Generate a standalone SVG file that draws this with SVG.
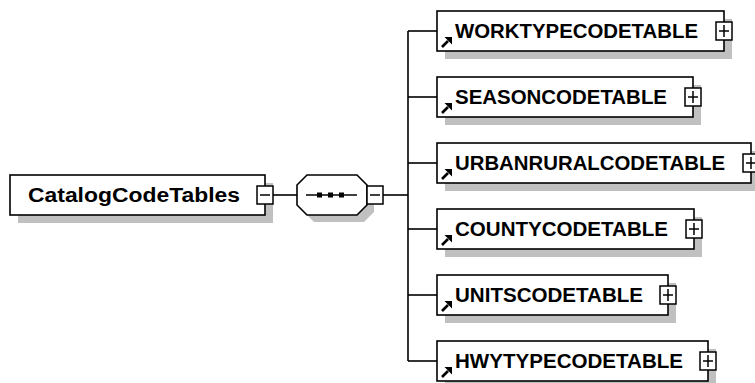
<svg xmlns="http://www.w3.org/2000/svg" width="755" height="383" viewBox="0 0 755 383">
<defs>
<style>
.sh{fill:#c0c0c0;stroke:none}
.bx{fill:#fff;stroke:#000;stroke-width:1.6}
.pm{fill:#fff;stroke:#000;stroke-width:1.5}
.ln{fill:none;stroke:#000;stroke-width:1.6}
.sg{fill:none;stroke:#000;stroke-width:1.5}
.t{font-family:"Liberation Sans",Arial,sans-serif;font-weight:bold;font-size:20px;fill:#000}
</style>
<g id="arrow-ref">
<path d="M0,0 L6,-6" stroke="#000" stroke-width="2.6" fill="none"/>
<path d="M2.5,-10 L10,-10 L10,-2.5 Z" fill="#000"/>
</g>
</defs>
<rect width="755" height="383" fill="#fff"/>

<g id="connectors">
<line class="ln" x1="273" y1="195" x2="297" y2="195"/>
<line class="ln" x1="383" y1="195" x2="408" y2="195"/>
<line class="ln" x1="408" y1="31" x2="408" y2="361"/>
<line class="ln" x1="408" y1="31" x2="437" y2="31"/>
<line class="ln" x1="408" y1="97" x2="437" y2="97"/>
<line class="ln" x1="408" y1="163" x2="437" y2="163"/>
<line class="ln" x1="408" y1="229" x2="437" y2="229"/>
<line class="ln" x1="408" y1="295" x2="437" y2="295"/>
<line class="ln" x1="408" y1="361" x2="437" y2="361"/>
</g>

<g id="CatalogCodeTables">
<rect class="sh" x="18" y="183" width="255" height="40"/>
<rect class="bx" x="10" y="175" width="255" height="40"/>
<text class="t" x="28" y="202" textLength="212" lengthAdjust="spacingAndGlyphs">CatalogCodeTables</text>
<rect class="pm" x="257" y="186" width="16" height="18"/>
<line class="sg" x1="260" y1="195" x2="270" y2="195"/>
</g>

<g id="sequence">
<polygon class="sh" points="314,182 364,182 374,192 374,212 364,222 314,222 304,212 304,192"/>
<polygon class="bx" points="307,175 357,175 367,185 367,205 357,215 307,215 297,205 297,185"/>
<line class="ln" x1="306" y1="195" x2="357" y2="195"/>
<rect x="317" y="192.5" width="5" height="5" fill="#000"/>
<rect x="328" y="192.5" width="5" height="5" fill="#000"/>
<rect x="339" y="192.5" width="5" height="5" fill="#000"/>
<rect class="pm" x="367" y="186" width="16" height="18"/>
<line class="sg" x1="370" y1="195" x2="380" y2="195"/>
</g>

<g id="WORKTYPECODETABLE">
<rect class="sh" x="445" y="19" width="287" height="40"/>
<rect class="bx" x="437" y="11" width="287" height="40"/>
<use href="#arrow-ref" x="442" y="47"/>
<text class="t" x="455" y="38" textLength="243" lengthAdjust="spacingAndGlyphs">WORKTYPECODETABLE</text>
<rect class="pm" x="716" y="22" width="16" height="18"/>
<line class="sg" x1="719" y1="31" x2="729" y2="31"/>
<line class="sg" x1="724" y1="25" x2="724" y2="37"/>
</g>

<g id="SEASONCODETABLE">
<rect class="sh" x="445" y="85" width="256" height="40"/>
<rect class="bx" x="437" y="77" width="256" height="40"/>
<use href="#arrow-ref" x="442" y="113"/>
<text class="t" x="455" y="104" textLength="212" lengthAdjust="spacingAndGlyphs">SEASONCODETABLE</text>
<rect class="pm" x="685" y="88" width="16" height="18"/>
<line class="sg" x1="688" y1="97" x2="698" y2="97"/>
<line class="sg" x1="693" y1="91" x2="693" y2="103"/>
</g>

<g id="URBANRURALCODETABLE">
<rect class="sh" x="445" y="151" width="314" height="40"/>
<rect class="bx" x="437" y="143" width="314" height="40"/>
<use href="#arrow-ref" x="442" y="179"/>
<text class="t" x="455" y="170" textLength="270" lengthAdjust="spacingAndGlyphs">URBANRURALCODETABLE</text>
<rect class="pm" x="743" y="154" width="16" height="18"/>
<line class="sg" x1="746" y1="163" x2="756" y2="163"/>
<line class="sg" x1="751" y1="157" x2="751" y2="169"/>
</g>

<g id="COUNTYCODETABLE">
<rect class="sh" x="445" y="217" width="257" height="40"/>
<rect class="bx" x="437" y="209" width="257" height="40"/>
<use href="#arrow-ref" x="442" y="245"/>
<text class="t" x="455" y="236" textLength="213" lengthAdjust="spacingAndGlyphs">COUNTYCODETABLE</text>
<rect class="pm" x="686" y="220" width="16" height="18"/>
<line class="sg" x1="689" y1="229" x2="699" y2="229"/>
<line class="sg" x1="694" y1="223" x2="694" y2="235"/>
</g>

<g id="UNITSCODETABLE">
<rect class="sh" x="445" y="283" width="231" height="40"/>
<rect class="bx" x="437" y="275" width="231" height="40"/>
<use href="#arrow-ref" x="442" y="311"/>
<text class="t" x="455" y="302" textLength="188" lengthAdjust="spacingAndGlyphs">UNITSCODETABLE</text>
<rect class="pm" x="660" y="286" width="16" height="18"/>
<line class="sg" x1="663" y1="295" x2="673" y2="295"/>
<line class="sg" x1="668" y1="289" x2="668" y2="301"/>
</g>

<g id="HWYTYPECODETABLE">
<rect class="sh" x="445" y="349" width="271" height="40"/>
<rect class="bx" x="437" y="341" width="271" height="40"/>
<use href="#arrow-ref" x="442" y="377"/>
<text class="t" x="455" y="368" textLength="228" lengthAdjust="spacingAndGlyphs">HWYTYPECODETABLE</text>
<rect class="pm" x="700" y="352" width="16" height="18"/>
<line class="sg" x1="703" y1="361" x2="713" y2="361"/>
<line class="sg" x1="708" y1="355" x2="708" y2="367"/>
</g>
</svg>
